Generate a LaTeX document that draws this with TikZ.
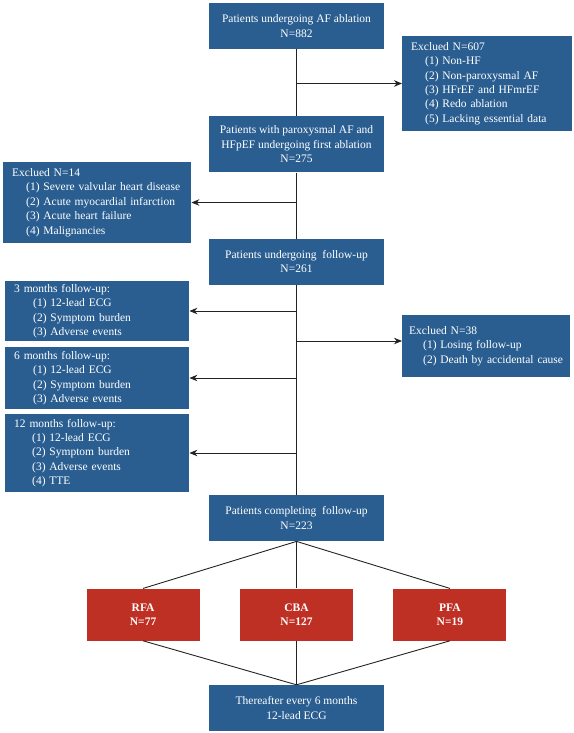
\documentclass[tikz,border=0pt]{standalone}
\usepackage{fontspec}
\setmainfont{Liberation Serif}
\usepackage{tikz}
\usetikzlibrary{arrows,arrows.meta,shapes,positioning}
\definecolor{fcblue}{RGB}{42,94,145}
\definecolor{fcred}{RGB}{190,48,36}
\definecolor{fcline}{RGB}{35,35,35}
\tikzstyle{mainbox} = [rectangle, minimum width=175pt, minimum height=46pt, inner sep=0pt, align=center, fill=fcblue, text=white, font=\fontsize{11.5}{14.4}\selectfont]
\tikzstyle{sidebox} = [rectangle, anchor=west, inner xsep=9pt, inner ysep=0pt, align=left, fill=fcblue, text=white, font=\fontsize{11.5}{14.4}\selectfont]
\tikzstyle{armbox} = [rectangle, minimum width=113pt, minimum height=52pt, inner sep=0pt, align=center, fill=fcred, text=white, font=\fontsize{11.5}{14.4}\selectfont\bfseries]
\tikzstyle{link} = [line width=0.9pt, color=fcline]
\tikzstyle{arrow} = [line width=0.9pt, ->, >={Stealth[length=8pt,width=6.5pt]}, color=fcline]
\newcommand{\itemgap}{\hspace*{14pt}}

\begin{document}
\begin{tikzpicture}[x=1pt, y=1pt]
\useasboundingbox (0,0) rectangle (573,-733);
% Main column
\node[mainbox] (pat) at (296.5,-26) {Patients undergoing AF ablation\\N=882};
\node[mainbox, minimum height=56pt, below=67pt of pat] (para) {Patients with paroxysmal AF and\\HFpEF undergoing first ablation\\N=275};
\node[mainbox, below=66pt of para] (fup) {Patients undergoing~ follow-up\\N=261};
\node[mainbox, below=210pt of fup] (comp) {Patients completing~ follow-up\\N=223};

% Ablation groups
\node[armbox, below=47pt of comp] (cba) {CBA\\N=127};
\node[armbox, left=40pt of cba] (rfa) {RFA\\N=77};
\node[armbox, right=40pt of cba] (pfa) {PFA\\N=19};
\node[mainbox, below=44pt of cba] (last) {Thereafter every 6 months\\12-lead ECG};

% Exclusions and follow-up visits
\node[sidebox, text width=152pt, minimum height=95pt] (ex1) at (402,-83.5) {Exclued N=607\\
\itemgap(1) Non-HF\\
\itemgap(2) Non-paroxysmal AF\\
\itemgap(3) HFrEF and HFmrEF\\
\itemgap(4) Redo ablation\\
\itemgap(5) Lacking essential data};
\node[sidebox, text width=170pt, minimum height=81pt] (ex2) at (3,-202.5) {Exclued N=14\\
\itemgap(1) Severe valvular heart disease\\
\itemgap(2) Acute myocardial infarction\\
\itemgap(3) Acute heart failure\\
\itemgap(4) Malignancies};
\node[sidebox, text width=166pt, minimum height=60pt] (m3) at (5,-311) {3 months follow-up:\\
\hspace*{19pt}(1) 12-lead ECG\\
\hspace*{19pt}(2) Symptom burden\\
\hspace*{19pt}(3) Adverse events};
\node[sidebox, text width=166pt, minimum height=62pt] (m6) at (5,-378) {6 months follow-up:\\
\hspace*{19pt}(1) 12-lead ECG\\
\hspace*{19pt}(2) Symptom burden\\
\hspace*{19pt}(3) Adverse events};
\node[sidebox, text width=166pt, minimum height=78pt] (m12) at (5,-453) {12 months follow-up:\\
\hspace*{18pt}(1) 12-lead ECG\\
\hspace*{18pt}(2) Symptom burden\\
\hspace*{18pt}(3) Adverse events\\
\hspace*{18pt}(4) TTE};
\node[sidebox, inner xsep=7pt, text width=154pt, minimum height=62pt] (ex3) at (402,-346) {Exclued N=38\\
\itemgap\mbox{(1) Losing follow-up}\\
\itemgap\mbox{(2) Death by accidental cause}};

% Connectors
\draw[link] (pat) -- (para);
\draw[link] (para) -- (fup);
\draw[link] (fup) -- (comp);
\draw[arrow] (pat.south |- ex1.west) -- (ex1.west);
\draw[arrow] (para.south |- ex2.east) -- (ex2.east);
\draw[arrow] (fup.south |- m3.east) -- (m3.east);
\draw[arrow] (fup.south |- m6.east) -- (m6.east);
\draw[arrow] (fup.south |- m12.east) -- (m12.east);
\draw[arrow] ([yshift=5pt]fup.south |- ex3.west) -- ([yshift=5pt]ex3.west);

\draw[link] (comp.south) -- (rfa.north);
\draw[link] (comp.south) -- (cba.north);
\draw[link] (comp.south) -- (pfa.north);
\draw[link] (rfa.south) -- (last.north);
\draw[link] (cba.south) -- (last.north);
\draw[link] (pfa.south) -- (last.north);
\end{tikzpicture}
\end{document}
